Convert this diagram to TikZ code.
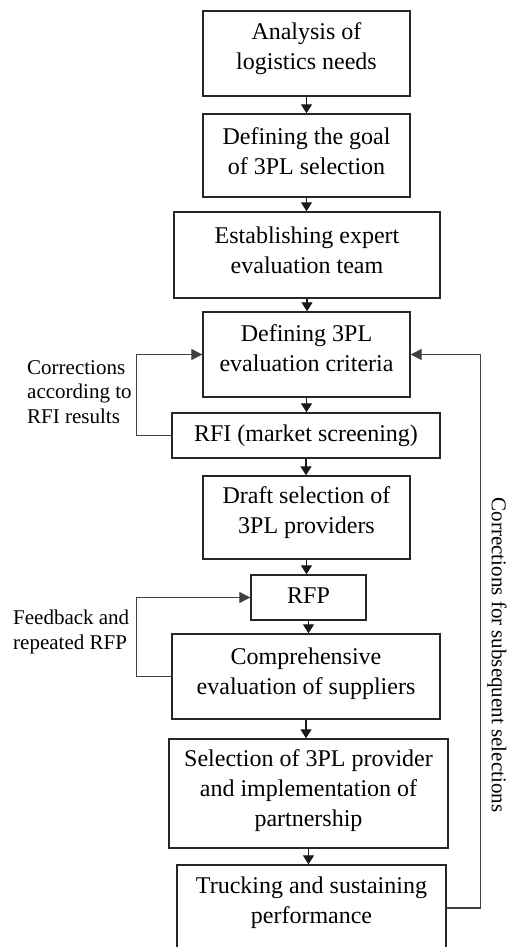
\documentclass[tikz,border=0pt]{standalone}
\usepackage{fontspec}
\setmainfont{Liberation Serif}
\usetikzlibrary{arrows.meta}
\begin{document}
\begin{tikzpicture}[x=1pt,y=-1pt,
  boxst/.style={draw=black!85, line width=1.4pt, rectangle, inner sep=0pt},
  txt/.style={align=center, font=\fontsize{24}{30}\selectfont, inner sep=0pt},
  lbl/.style={align=left, font=\fontsize{21}{24.5}\selectfont, inner sep=0pt},
  arr/.style={draw=black!90, line width=1.3pt, -{Triangle[length=9pt,width=11pt]}},
  loopst/.style={draw=black!75, line width=1.2pt, -{Triangle[length=11pt,width=11pt]}}]
\useasboundingbox (0,0) rectangle (507,947);
\clip (0,0) rectangle (507,947);
% boxes
\node[boxst, minimum width=207pt, minimum height=85pt] (b1) at (306.5,53.5) {};
\node[boxst, minimum width=207pt, minimum height=83pt] (b2) at (306.5,155.5) {};
\node[boxst, minimum width=266pt, minimum height=86pt] (b3) at (307,255) {};
\node[boxst, minimum width=207pt, minimum height=85pt] (b4) at (306.5,354.5) {};
\node[boxst, minimum width=268pt, minimum height=45pt] (b5) at (306,435.5) {};
\node[boxst, minimum width=207pt, minimum height=83pt] (b6) at (306.5,517.5) {};
\node[boxst, minimum width=115pt, minimum height=45pt] (b7) at (308.5,597.5) {};
\node[boxst, minimum width=268pt, minimum height=85pt] (b8) at (306,676.5) {};
\node[boxst, minimum width=279pt, minimum height=109pt] (b9) at (308.5,793.5) {};
\node[boxst, minimum width=269pt, minimum height=86pt] (b10) at (311.5,908) {};
% texts
\node[txt] (t1) at (306.5,48.7) {Analysis of\\logistics needs};
\node[txt] (t2) at (306.5,151) {Defining the goal\\of 3PL selection};
\node[txt] (t3) at (307,250) {Establishing expert\\evaluation team};
\node[txt] (t4) at (306.5,348.5) {Defining 3PL\\evaluation criteria};
\node[txt] (t5) at (306,435.5) {RFI (market screening)};
\node[txt] (t6) at (306.5,513) {Draft selection of\\3PL providers};
\node[txt] (t7) at (308.5,596) {RFP};
\node[txt] (t8) at (306,674) {Comprehensive\\evaluation of suppliers};
\node[txt] (t9) at (308.5,791) {Selection of 3PL provider\\and implementation of\\partnership};
\node[txt] (t10) at (311.5,903) {Trucking and sustaining\\performance};
% side labels
\node[lbl, anchor=west] (l1) at (27,392) {Corrections\\according to\\RFI results};
\node[lbl, anchor=west] (l2) at (13,632) {Feedback and\\repeated RFP};
\node[lbl, rotate=-90] (l3) at (497,655) {Corrections for subsequent selections};
% main flow
\draw[arr] (b1.south) -- (b1.south |- b2.north);
\draw[arr] (b2.south) -- (b2.south |- b3.north);
\draw[arr] (b3.south) -- (b3.south |- b4.north);
\draw[arr] (b4.south) -- (b4.south |- b5.north);
\draw[arr] (b5.south) -- (b5.south |- b6.north);
\draw[arr] (b6.south) -- (b6.south |- b7.north);
\draw[arr] (b7.south) -- (b7.south |- b8.north);
\draw[arr] (b8.south) -- (b8.south |- b9.north);
\draw[arr] (b9.south) -- (b9.south |- b10.north);
% feedback loops
\draw[loopst] (b5.west) -- ++(-35,0) |- (b4.west);
\draw[loopst] (b8.west) -- ++(-35,0) |- (b7.west);
\draw[loopst] (b10.east) -- ++(34,0) |- (b4.east);
\end{tikzpicture}
\end{document}
